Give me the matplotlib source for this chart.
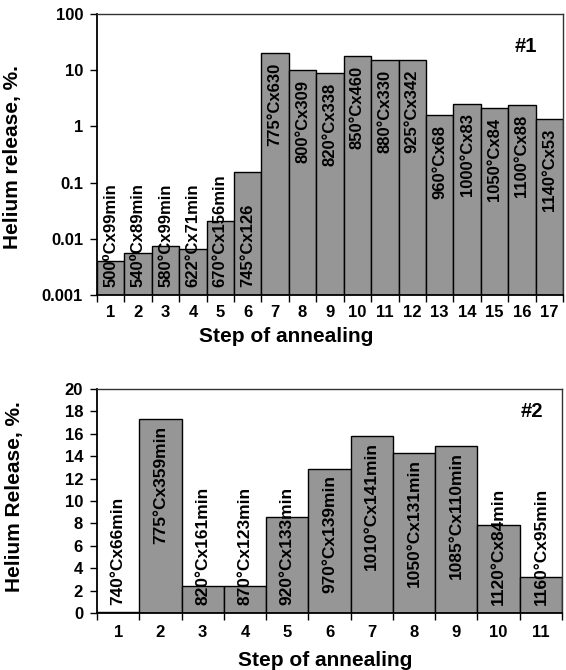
import numpy as np
import matplotlib
matplotlib.use("Agg")
import matplotlib.pyplot as plt
from matplotlib.ticker import FixedLocator, NullLocator

plt.rcParams['font.family'] = ['Liberation Sans', 'DejaVu Sans']
plt.rcParams['font.weight'] = 'bold'
plt.rcParams['axes.labelweight'] = 'bold'

# ---- data: chart #1 (log scale) ----
steps1 = list(range(1, 18))
release1 = [0.004, 0.0057, 0.0074, 0.0066, 0.0205, 0.156, 20.5, 10.0, 9.0,
            18.1, 15.2, 15.0, 1.57, 2.54, 2.15, 2.4, 1.34]
labels1 = ["500\u2070Cx99min", "540\u2070Cx89min", "580°Cx99min", "622°Cx71min",
           "670°Cx156min", "745°Cx126", "775°Cx630", "800°Cx309", "820°Cx338",
           "850°Cx460", "880°Cx330", "925°Cx342", "960°Cx68", "1000°Cx83",
           "1050°Cx84", "1100°Cx88", "1140°Cx53"]
yticks1 = [0.001, 0.01, 0.1, 1, 10, 100]
yticklabels1 = ["0.001", "0.01", "0.1", "1", "10", "100"]

# ---- data: chart #2 (linear) ----
steps2 = list(range(1, 12))
release2 = [0.05, 17.3, 2.4, 2.45, 8.6, 12.85, 15.83, 14.28, 14.9, 7.9, 3.22]
labels2 = ["740°Cx66min", "775°Cx359min", "820°Cx161min", "870°Cx123min",
           "920°Cx133min", "970°Cx139min", "1010°Cx141min", "1050°Cx131min",
           "1085°Cx110min", "1120°Cx84min", "1160°Cx95min"]
yticks2 = list(range(0, 21, 2))

BAR_COLOR = '#969696'

fig = plt.figure(figsize=(5.66, 6.70), dpi=100)
ax1 = fig.add_axes([0.1714, 0.5597, 0.8233, 0.4194])
ax2 = fig.add_axes([0.1714, 0.0851, 0.8216, 0.3343])


def style_axes(ax, n, tick_fs, xpad):
    ax.set_xlim(0.5, n + 0.5)
    bounds = np.arange(0.5, n + 1.0, 1.0)
    ax.xaxis.set_major_locator(FixedLocator(bounds))
    ax.set_xticklabels([''] * len(bounds))
    ax.set_xticks(np.arange(1, n + 1), minor=True)
    ax.set_xticklabels([str(s) for s in range(1, n + 1)], minor=True,
                       fontsize=tick_fs, fontweight='bold')
    ax.tick_params(axis='x', which='major', direction='out', length=5, width=1)
    ax.tick_params(axis='x', which='minor', length=0, pad=xpad)
    ax.tick_params(axis='y', which='major', direction='out', length=5, width=1,
                   labelsize=tick_fs, pad=5)
    for s in ['left', 'bottom']:
        ax.spines[s].set_linewidth(1.3)
        ax.spines[s].set_color('black')
    for s in ['top', 'right']:
        ax.spines[s].set_linewidth(1.0)
        ax.spines[s].set_color('#333333')


# ---- chart 1 ----
ax1.bar(steps1, release1, width=1.0, color=BAR_COLOR, edgecolor='black',
        linewidth=1.0, bottom=0.0)
ax1.set_yscale('log')
ax1.set_ylim(0.001, 100)
ax1.yaxis.set_major_locator(FixedLocator(yticks1))
ax1.yaxis.set_minor_locator(NullLocator())
ax1.set_yticklabels(yticklabels1)
style_axes(ax1, len(steps1), 12, 7)
for x, v, t in zip(steps1, release1, labels1):
    if v > 1:
        ax1.annotate(t, xy=(x, v), xytext=(0, -7), textcoords='offset points',
                     rotation=90, ha='center', va='top', fontsize=12,
                     fontweight='bold')
    else:
        ax1.annotate(t, xy=(x, 0), xycoords=('data', 'axes fraction'),
                     xytext=(0, 5.5), textcoords='offset points',
                     rotation=90, ha='center', va='bottom', fontsize=12,
                     fontweight='bold')
ax1.set_ylabel("Helium release, %.", fontsize=15, fontweight='bold')
ax1.yaxis.set_label_coords(-0.161, 0.49)
ax1.set_xlabel("Step of annealing", fontsize=15, fontweight='bold')
ax1.xaxis.set_label_coords(0.406, -0.146)
ax1.xaxis.label.set_va('center')
ax1.text(0.92, 0.885, "#1", transform=ax1.transAxes, ha='center',
         va='center', fontsize=14.5, fontweight='bold')

# ---- chart 2 ----
ax2.bar(steps2, release2, width=1.0, color=BAR_COLOR, edgecolor='black',
        linewidth=1.0)
ax2.set_ylim(0, 20)
ax2.set_yticks(yticks2)
style_axes(ax2, len(steps2), 12, 9)
for x, v, t in zip(steps2, release2, labels2):
    if v > 10:
        ax2.annotate(t, xy=(x, v), xytext=(0, -4.5), textcoords='offset points',
                     rotation=90, ha='center', va='top', fontsize=12.5,
                     fontweight='bold')
    else:
        ax2.annotate(t, xy=(x, 0), xycoords=('data', 'axes fraction'),
                     xytext=(0, 5.5), textcoords='offset points',
                     rotation=90, ha='center', va='bottom', fontsize=12.5,
                     fontweight='bold')
ax2.set_ylabel("Helium Release, %.", fontsize=15, fontweight='bold')
ax2.yaxis.set_label_coords(-0.157, 0.52)
ax2.set_xlabel("Step of annealing", fontsize=15, fontweight='bold')
ax2.xaxis.set_label_coords(0.49, -0.21)
ax2.xaxis.label.set_va('center')
ax2.text(0.935, 0.9, "#2", transform=ax2.transAxes, ha='center',
         va='center', fontsize=14.5, fontweight='bold')

fig.savefig("out.png", dpi=100)
